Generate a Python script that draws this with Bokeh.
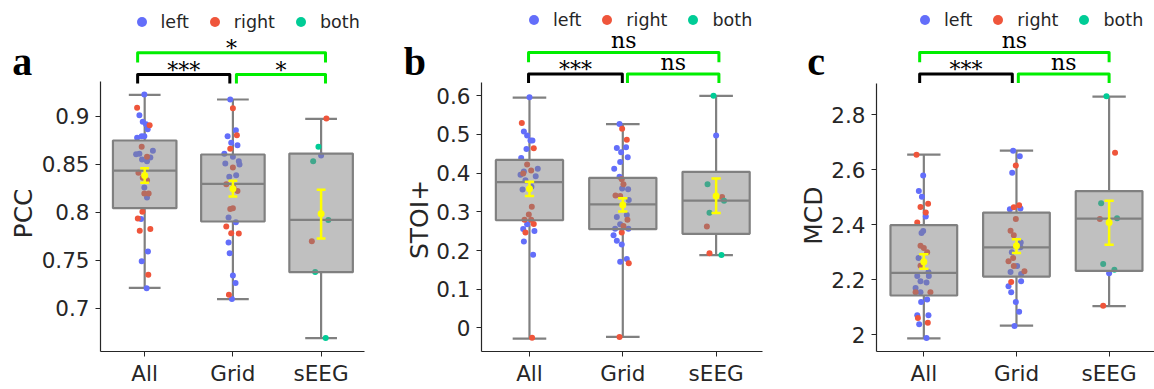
import numpy as np
from bokeh.plotting import figure
from bokeh.layouts import row
from bokeh.models import FixedTicker, Legend, LegendItem, Range1d
from bokeh.core.properties import value
from bokeh.embed import file_html
from bokeh.resources import INLINE

groups = ["All", "Grid", "sEEG"]
hemi_codes = ["L", "R", "B"]
hemi_names = ["left", "right", "both"]
hemi_colors = ["#636EFA", "#EF553B", "#00CC96"]
pair_colors = ["black", "#00ee00", "#00ee00"]

# ---------------- PCC ----------------
pcc_all = [0.9226, 0.9087, 0.9010, 0.8942, 0.8906, 0.8865, 0.8917, 0.8775, 0.8792, 0.8792,
           0.8681, 0.8640, 0.8604, 0.8610, 0.8549, 0.8577, 0.8570, 0.8531, 0.8410, 0.8358,
           0.8333, 0.8257, 0.8195, 0.8195, 0.8154, 0.8004, 0.7934, 0.7930, 0.7807, 0.7824,
           0.7591, 0.7490, 0.7348, 0.7208]
pcc_all_side = "LRLLRLLLLLRLLLLRLLRRRLRRLRRLRRLLRL"
pcc_grid = [0.9174, 0.9083, 0.8854, 0.8792, 0.8802, 0.8723, 0.8698, 0.8660, 0.8608, 0.8577,
            0.8531, 0.8497, 0.8507, 0.8465, 0.8368, 0.8385, 0.8291, 0.8257, 0.8222, 0.8034,
            0.8040, 0.7945, 0.7896, 0.7850, 0.7780, 0.7778, 0.7685, 0.7573, 0.7340, 0.7262,
            0.7141, 0.7096]
pcc_grid_side = "LRLLRLLRLLLLLRLLRRRRRLLRRRLLLLRL"
pcc_seeg = [0.8976, 0.8681, 0.8590, 0.8530, 0.7918, 0.7698, 0.7378, 0.6690]
pcc_seeg_side = "RBLBBRBB"
pcc_q1 = [0.8042, 0.7903, 0.7375]
pcc_median = [0.8434, 0.8295, 0.7920]
pcc_q3 = [0.8747, 0.8601, 0.8611]
pcc_whisker_lo = [0.7212, 0.7094, 0.6688]
pcc_whisker_hi = [0.9223, 0.9174, 0.8973]
pcc_mean = [0.8382, 0.8244, 0.7983]
pcc_err_lo = [0.8306, 0.8163, 0.7726]
pcc_err_hi = [0.8458, 0.8327, 0.8233]
pcc_sig = ["***", "*", "*"]
pcc_ticks = [0.7, 0.75, 0.8, 0.85, 0.9]
pcc_tick_labels = ["0.7", "0.75", "0.8", "0.85", "0.9"]

# ---------------- STOI+ ----------------
stoi_all = [0.5959, 0.5291, 0.5075, 0.4973, 0.4841, 0.4841, 0.4623, 0.4639, 0.4392, 0.4220,
            0.4109, 0.4065, 0.4040, 0.3960, 0.3990, 0.3919, 0.3817, 0.3578, 0.3646, 0.3133,
            0.2928, 0.2794, 0.2794, 0.2679, 0.2686, 0.2558, 0.2506, 0.2465, 0.2234, 0.1890,
            -0.0257]
stoi_all_side = "LRLLLLLRLRLRLLRLLLLRRRRLRLLRLLR"
stoi_grid = [0.5265, 0.5145, 0.4863, 0.4649, 0.4666, 0.4536, 0.4407, 0.4289, 0.4109, 0.3904,
             0.3840, 0.3714, 0.3600, 0.3580, 0.3424, 0.3407, 0.3303, 0.2865, 0.2917, 0.2797,
             0.2679, 0.2635, 0.2562, 0.2562, 0.2465, 0.2396, 0.2250, 0.2157, 0.1779, 0.1711,
             0.1670, -0.0232]
stoi_grid_side = "LRRLLLLLLLRRLLRRLLLRLRLLRLLLLLRR"
stoi_seeg = [0.6000, 0.4973, 0.3714, 0.3379, 0.3287, 0.2978, 0.2619, 0.1926, 0.1882]
stoi_seeg_side = "BLBRBBRRB"
stoi_q1 = [0.2781, 0.2550, 0.2430]
stoi_median = [0.3765, 0.3192, 0.3287]
stoi_q3 = [0.4340, 0.3878, 0.4032]
stoi_whisker_lo = [-0.0276, -0.0232, 0.1882]
stoi_whisker_hi = [0.5949, 0.5265, 0.5992]
stoi_mean = [0.3595, 0.3174, 0.3406]
stoi_err_lo = [0.3406, 0.3005, 0.2969]
stoi_err_hi = [0.3775, 0.3347, 0.3860]
stoi_sig = ["***", "ns", "ns"]
stoi_ticks = [0, 0.1, 0.2, 0.3, 0.4, 0.5, 0.6]
stoi_tick_labels = ["0", "0.1", "0.2", "0.3", "0.4", "0.5", "0.6"]

# ---------------- MCD ----------------
mcd_all = [2.6552, 2.5792, 2.5224, 2.5017, 2.4767, 2.4645, 2.4443, 2.4298, 2.4080, 2.3776,
           2.3700, 2.3233, 2.3150, 2.3000, 2.2787, 2.2509, 2.2136, 2.2136, 2.2270, 2.1944,
           2.1893, 2.1701, 2.1545, 2.1545, 2.1545, 2.1278, 2.1183, 2.0706, 2.0706, 2.0605,
           2.0435, 2.0373, 1.9881]
mcd_all_side = "RLLLRRRLRLLRRRLRLLLLLLRRLLLLLRRLL"
mcd_grid = [2.6697, 2.6490, 2.6154, 2.5889, 2.4706, 2.4638, 2.4566, 2.4590, 2.4207, 2.3783,
            2.3613, 2.3349, 2.3179, 2.2998, 2.2787, 2.2667, 2.2497, 2.2497, 2.2281, 2.2305,
            2.2208, 2.1918, 2.1944, 2.1762, 2.1545, 2.1183, 2.0832, 2.0314]
mcd_grid_side = "LLRLRRLLRRRLLLRRRLLRLRLLLLLL"
mcd_seeg = [2.8676, 2.6624, 2.4778, 2.4209, 2.4235, 2.2570, 2.2364, 2.2231, 2.1050]
mcd_seeg_side = "BRBRBBBLR"
mcd_q1 = [2.1423, 2.2111, 2.2317]
mcd_median = [2.2244, 2.3174, 2.4224]
mcd_q3 = [2.3982, 2.4441, 2.5224]
mcd_whisker_lo = [1.9866, 2.0326, 2.1039]
mcd_whisker_hi = [2.6552, 2.6697, 2.8663]
mcd_mean = [2.2654, 2.3233, 2.4080]
mcd_err_lo = [2.2400, 2.2968, 2.3269]
mcd_err_hi = [2.2921, 2.3475, 2.4876]
mcd_sig = ["***", "ns", "ns"]
mcd_ticks = [2, 2.2, 2.4, 2.6, 2.8]
mcd_tick_labels = ["2", "2.2", "2.4", "2.6", "2.8"]

# strip-plot horizontal jitter (layout only)
jit_pcc = [
    [-0.004, -0.086, -0.060, -0.022, 0.056, 0.034, 0.015, -0.086, -0.034, -0.004,
     -0.034, 0.093, -0.097, -0.060, -0.030, 0.026, 0.064, 0.026, -0.071, -0.022,
     0.026, -0.004, -0.004, 0.045, 0.026, -0.026, -0.078, -0.041, -0.056, 0.064,
     0.037, -0.034, 0.041, 0.022],
    [-0.030, 0.0, 0.034, -0.060, 0.045, -0.019, 0.052, -0.030, -0.097, 0.0,
     0.067, 0.075, -0.086, 0.0, -0.041, 0.037, -0.075, 0.007, 0.052, -0.030,
     0.0, -0.049, 0.034, -0.075, -0.019, 0.067, -0.049, -0.037, 0.0, 0.030,
     -0.045, -0.011],
    [0.060, -0.030, 0.0, -0.090, 0.082, -0.105, -0.067, 0.052]]
jit_stoi = [
    [0.0, -0.082, -0.060, -0.025, 0.011, 0.032, -0.032, 0.046, -0.089, -0.025,
     0.089, 0.018, -0.060, -0.096, -0.067, 0.067, -0.043, -0.074, 0.021, 0.025,
     -0.007, -0.053, 0.018, -0.025, 0.046, -0.067, 0.053, -0.043, -0.060, 0.039,
     0.028],
    [-0.035, -0.007, 0.043, -0.064, 0.035, -0.018, 0.053, -0.028, -0.092, -0.035,
     -0.011, 0.007, -0.007, 0.057, -0.078, -0.028, 0.064, -0.064, 0.043, 0.050,
     -0.028, 0.007, -0.082, 0.060, -0.011, -0.099, -0.064, -0.011, 0.043, -0.028,
     0.064, -0.035],
    [-0.028, 0.0, -0.092, 0.064, 0.085, -0.071, -0.099, -0.071, 0.057]]
jit_mcd = [
    [-0.079, -0.007, -0.054, -0.021, 0.046, -0.036, 0.021, 0.021, -0.071, -0.007,
     -0.025, -0.036, 0.0, 0.036, -0.057, -0.036, -0.071, 0.054, 0.050, -0.036,
     0.029, -0.089, -0.089, 0.071, -0.036, 0.036, -0.029, -0.071, 0.050, -0.064,
     0.043, -0.050, 0.029],
    [-0.036, 0.036, -0.007, -0.046, 0.029, -0.029, -0.071, 0.043, -0.007, -0.064,
     -0.029, 0.046, 0.043, -0.050, -0.036, -0.086, -0.029, 0.007, -0.064, 0.086,
     0.050, -0.057, 0.050, -0.086, -0.057, -0.007, 0.029, -0.021],
    [-0.029, 0.064, -0.086, -0.100, 0.086, -0.064, 0.057, 0.0, -0.064]]

# ---------------- layout ----------------
FIG_H = 389
TEXT = "#262626"
GRAY = "#808080"
BASE_FIX = 7     # baseline correction for svg text (pixels)
ROT_FIX = 21     # anchor correction for the rotated axis titles (pixels)

panels = [
    dict(letter="a", ylabel="PCC",
         vals=[pcc_all, pcc_grid, pcc_seeg], sides=[pcc_all_side, pcc_grid_side, pcc_seeg_side], jit=jit_pcc,
         q1=pcc_q1, med=pcc_median, q3=pcc_q3, wlo=pcc_whisker_lo, whi=pcc_whisker_hi,
         mean=pcc_mean, elo=pcc_err_lo, ehi=pcc_err_hi, sig=pcc_sig,
         ticks=pcc_ticks, tick_labels=pcc_tick_labels,
         lw=38, letter_x=11.7, ylab_x=22.5, ylab_y=215,
         w=347, bl=59, br=21, bb=38, xr=(-0.501, 2.492), yr=(0.6549, 1.0205), bounds=(0.6549, 0.9361),
         leg_x=28.5, spans=[(-0.08, 0.965), (1.04, 2.05)]),
    dict(letter="b", ylabel="STOI+",
         vals=[stoi_all, stoi_grid, stoi_seeg], sides=[stoi_all_side, stoi_grid_side, stoi_seeg_side], jit=jit_stoi,
         q1=stoi_q1, med=stoi_median, q3=stoi_q3, wlo=stoi_whisker_lo, whi=stoi_whisker_hi,
         mean=stoi_mean, elo=stoi_err_lo, ehi=stoi_err_hi, sig=stoi_sig,
         ticks=stoi_ticks, tick_labels=stoi_tick_labels,
         lw=48, letter_x=18.3, ylab_x=33.5, ylab_y=221.7,
         w=337, bl=46, br=8, bb=36, xr=(-0.514, 2.497), yr=(-0.0609, 0.8458), bounds=(-0.0609, 0.6334),
         leg_x=40, spans=[(-0.01, 0.995), (1.05, 2.03)]),
    dict(letter="c", ylabel="MCD",
         vals=[mcd_all, mcd_grid, mcd_seeg], sides=[mcd_all_side, mcd_grid_side, mcd_seeg_side], jit=jit_mcd,
         q1=mcd_q1, med=mcd_median, q3=mcd_q3, wlo=mcd_whisker_lo, whi=mcd_whisker_hi,
         mean=mcd_mean, elo=mcd_err_lo, ehi=mcd_err_hi, sig=mcd_sig,
         ticks=mcd_ticks, tick_labels=mcd_tick_labels,
         lw=58, letter_x=36.7, ylab_x=43, ylab_y=217.5,
         w=326, bl=46, br=0, bb=36, xr=(-0.511, 2.49), yr=(1.9385, 3.2163), bounds=(1.9385, 2.9147),
         leg_x=36, spans=[(-0.045, 0.955), (1.02, 2.0)]),
]

BOX_W = 0.72
CAP_W = 0.36
ERR_CAP = 0.05


def label_strip(s):
    """Narrow figure holding the panel letter and the rotated y-axis title."""
    w = s["lw"]
    f = figure(width=w, height=FIG_H, x_range=Range1d(0, w), y_range=Range1d(0, FIG_H),
               x_axis_type=None, y_axis_type=None, min_border=0, output_backend="svg",
               toolbar_location=None)
    f.outline_line_color = None
    f.text(x=[s["letter_x"]], y=[FIG_H - 75 + BASE_FIX], text=[s["letter"]],
           text_font=value("Liberation Serif"), text_font_style="bold", text_font_size="40px",
           text_align="left", text_baseline="alphabetic", text_color="black")
    f.text(x=[s["ylab_x"]], y=[FIG_H - (s["ylab_y"] + ROT_FIX)], text=[s["ylabel"]], angle=np.pi / 2,
           text_font=value("DejaVu Sans"), text_font_size="25px",
           text_align="center", text_baseline="alphabetic", text_color=TEXT)
    return f


def make_panel(s):
    y0, y1 = s["yr"]
    x0, x1 = s["xr"]
    frame_h = FIG_H - s["bb"]
    ky = frame_h / (y1 - y0)

    def py(canvas_y):
        return y1 - canvas_y / ky

    p = figure(width=s["w"], height=FIG_H, x_range=Range1d(x0, x1), y_range=Range1d(y0, y1),
               min_border_left=s["bl"], min_border_right=s["br"], min_border_top=0,
               min_border_bottom=s["bb"], output_backend="svg", toolbar_location=None)
    p.outline_line_color = None
    p.xgrid.visible = False
    p.ygrid.visible = False

    xc = list(range(len(groups)))
    # whiskers and caps
    p.segment(x0=xc, y0=s["q3"], x1=xc, y1=s["whi"], line_color=GRAY, line_width=2.2)
    p.segment(x0=xc, y0=s["q1"], x1=xc, y1=s["wlo"], line_color=GRAY, line_width=2.2)
    for yy in (s["whi"], s["wlo"]):
        p.segment(x0=[x - CAP_W / 2 for x in xc], y0=yy, x1=[x + CAP_W / 2 for x in xc], y1=yy,
                  line_color=GRAY, line_width=2.2)

    # points
    renderers = []
    for code, col in zip(hemi_codes, hemi_colors):
        xs, ys = [], []
        for gi, (vals, sides, jit) in enumerate(zip(s["vals"], s["sides"], s["jit"])):
            for v, sd, j in zip(vals, sides, jit):
                if sd == code:
                    xs.append(gi + j)
                    ys.append(v)
        r = p.scatter(x=xs, y=ys, size=6, marker="circle", fill_color=col, line_color=None)
        renderers.append(r)

    # boxes (semi transparent so points below look muted)
    p.vbar(x=xc, width=BOX_W, bottom=s["q1"], top=s["q3"], fill_color="#818181", fill_alpha=0.5,
           line_color=GRAY, line_width=2.2)
    p.segment(x0=[x - BOX_W / 2 for x in xc], y0=s["med"], x1=[x + BOX_W / 2 for x in xc], y1=s["med"],
              line_color=GRAY, line_width=2.2)

    # mean +- error
    p.segment(x0=xc, y0=s["elo"], x1=xc, y1=s["ehi"], line_color="#ffff00", line_width=2.5)
    for yy in (s["elo"], s["ehi"]):
        p.segment(x0=[x - ERR_CAP for x in xc], y0=yy, x1=[x + ERR_CAP for x in xc], y1=yy,
                  line_color="#ffff00", line_width=2.5)
    p.scatter(x=xc, y=s["mean"], size=7, marker="circle", fill_color="#ffff00", line_color=None)

    # significance brackets: (All,Grid), (Grid,sEEG), (All,sEEG)
    (a0, a1), (b0, b1) = s["spans"]
    spans = [(a0, a1), (b0, b1), (a0, b1)]
    levels = [(74, 83), (74, 83), (52.3, 62)]  # bracket line / leg end, pixels from top
    for (xa, xb), (lv, leg), txt, col in zip(spans, levels, s["sig"], pair_colors):
        yl, yg = py(lv), py(leg)
        p.line(x=[xa, xa, xb, xb], y=[yg, yl, yl, yg], line_color=col, line_width=3, line_join="round")
        base = (lv + 2.5 if "*" in txt else lv - 5) - BASE_FIX
        p.text(x=[(xa + xb) / 2], y=[py(base)], text=[txt], text_font=value("DejaVu Serif"),
               text_font_size="22px", text_align="center", text_baseline="alphabetic", text_color="black")

    # axes
    p.xaxis.ticker = FixedTicker(ticks=xc)
    p.xaxis.major_label_overrides = {i: g for i, g in enumerate(groups)}
    p.yaxis.ticker = FixedTicker(ticks=s["ticks"])
    p.yaxis.major_label_overrides = {t: l for t, l in zip(s["ticks"], s["tick_labels"])}
    p.yaxis.bounds = s["bounds"]
    for ax in (p.xaxis, p.yaxis):
        ax.axis_line_color = TEXT
        ax.axis_line_width = 1.2
        ax.major_tick_line_color = TEXT
        ax.major_tick_in = 0
        ax.major_tick_out = 5
        ax.minor_tick_line_color = None
        ax.major_label_text_font = "DejaVu Sans"
        ax.major_label_text_font_size = "21.5px"
        ax.major_label_text_color = TEXT
    p.xaxis.major_label_standoff = 4
    p.yaxis.major_label_standoff = 6

    # legend
    items = [LegendItem(label=n, renderers=[r]) for n, r in zip(hemi_names, renderers)]
    leg = Legend(items=items, orientation="horizontal", location=(s["leg_x"], frame_h - 34.2),
                 glyph_width=25, glyph_height=25, label_standoff=7, spacing=13,
                 padding=0, margin=0, border_line_alpha=0, background_fill_alpha=0,
                 label_text_font="DejaVu Sans", label_text_font_size="17.5px", label_text_color=TEXT)
    p.add_layout(leg)
    return p


figs = []
for s in panels:
    figs.append(label_strip(s))
    figs.append(make_panel(s))
layout = row(*figs)
open("out.html", "w").write(file_html(layout, INLINE))
